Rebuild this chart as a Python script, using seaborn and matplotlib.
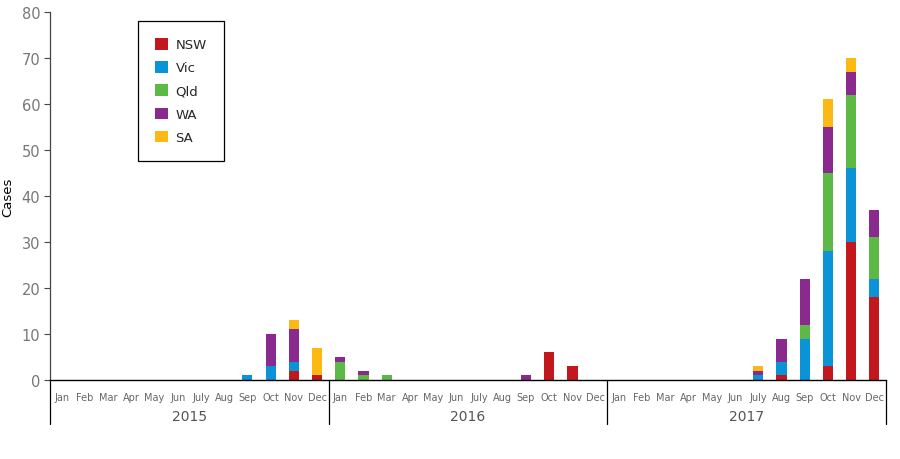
import matplotlib
matplotlib.use("Agg")
import matplotlib.pyplot as plt
from matplotlib.patches import Patch
from matplotlib.lines import Line2D
import seaborn as sns
import pandas as pd
import numpy as np

years = ["2015", "2016", "2017"]
months = ["Jan", "Feb", "Mar", "Apr", "May", "Jun", "July", "Aug", "Sep", "Oct", "Nov", "Dec"]
states = ["NSW", "Vic", "Qld", "WA", "SA"]
colors = ["#C1171D", "#0A93D6", "#5CB946", "#8A2A8F", "#FDB913"]

# cases per month (Jan 2015 .. Dec 2017)
nsw = [0,0,0,0,0,0,0,0,0,0,2,1,  0,0,0,0,0,0,0,0,0,6,3,0,  0,0,0,0,0,0,0,1,0,3,30,18]
vic = [0,0,0,0,0,0,0,0,1,3,2,0,  0,0,0,0,0,0,0,0,0,0,0,0,  0,0,0,0,0,0,1,3,9,25,16,4]
qld = [0,0,0,0,0,0,0,0,0,0,0,0,  4,1,1,0,0,0,0,0,0,0,0,0,  0,0,0,0,0,0,0,0,3,17,16,9]
wa  = [0,0,0,0,0,0,0,0,0,7,7,0,  1,1,0,0,0,0,0,0,1,0,0,0,  0,0,0,0,0,0,1,5,10,10,5,6]
sa  = [0,0,0,0,0,0,0,0,0,0,2,6,  0,0,0,0,0,0,0,0,0,0,0,0,  0,0,0,0,0,0,1,0,0,6,3,0]

series = [nsw, vic, qld, wa, sa]
periods = [f"{y}-{m}" for y in years for m in months]

sns.set_style("white")
plt.rcParams["font.family"] = ["DejaVu Sans"]

fig = plt.figure(figsize=(9, 4.6), dpi=100)
ax = fig.add_axes([50/900, 1-381/460, 836/900, 368/460])

cum = np.cumsum(np.array(series), axis=0)
for i in range(len(states)-1, -1, -1):
    df = pd.DataFrame({"period": periods, "cases": cum[i]})
    sns.barplot(data=df, x="period", y="cases", order=periods, color=colors[i],
                width=0.44, linewidth=0, saturation=1, ax=ax, errorbar=None)

ax.set_xlim(-0.5, 35.5)
ax.set_ylim(0, 80)
ax.set_yticks(range(0, 81, 10))
ax.tick_params(axis="y", left=True, length=4, width=0.8, color="#444444",
               labelsize=10.5, labelcolor="#777777", pad=3)
ax.set_xticks(range(36))
ax.set_xticklabels(months*3, fontsize=7, color="#666666")
ax.tick_params(axis="x", bottom=False, pad=5)
ax.set_xlabel("")
ax.set_ylabel("Cases", fontsize=9.5, color="black", labelpad=5)

for s in ["top", "right"]:
    ax.spines[s].set_visible(False)
ax.spines["left"].set_color("#444444")
ax.spines["left"].set_linewidth(0.9)
ax.spines["bottom"].set_color("black")
ax.spines["bottom"].set_linewidth(1.0)

trans = ax.get_xaxis_transform()
for xb in [-0.5, 11.5, 23.5, 35.5]:
    ax.add_line(Line2D([xb, xb], [0, -44/368], transform=trans, color="black",
                       lw=0.9, clip_on=False))
for k, y in enumerate(years):
    ax.text(12*k + 5.5, -36/368, y, transform=trans, ha="center", va="center",
            fontsize=10, color="#555555")

handles = [Patch(facecolor=c, edgecolor="none", label=s) for s, c in zip(states, colors)]
leg = ax.legend(handles=handles, loc="upper left",
                bbox_to_anchor=(138/900, 1-22/460), bbox_transform=fig.transFigure,
                borderaxespad=0, fontsize=9.5, frameon=True, fancybox=False,
                edgecolor="black", framealpha=1, borderpad=1.3,
                handlelength=0.95, handleheight=0.95, handletextpad=0.6,
                labelspacing=0.75)
leg.get_frame().set_linewidth(0.9)

fig.savefig("out.png", dpi=100)
